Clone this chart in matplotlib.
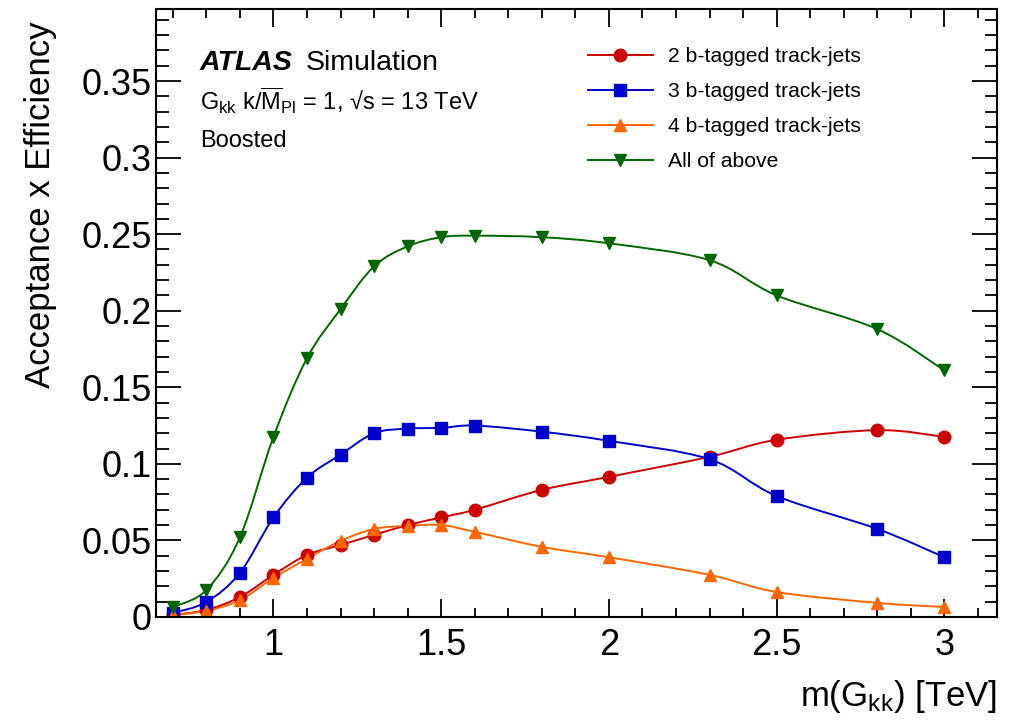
import numpy as np
import matplotlib
matplotlib.use("Agg")
from matplotlib import pyplot as plt
from matplotlib.path import Path
from matplotlib.patches import PathPatch
from matplotlib.lines import Line2D
from matplotlib.ticker import MultipleLocator

plt.rcParams['font.family'] = ['Liberation Sans', 'DejaVu Sans']
plt.rcParams['mathtext.fontset'] = 'custom'
plt.rcParams['mathtext.rm'] = 'Liberation Sans'
plt.rcParams['mathtext.it'] = 'Liberation Sans:italic'

#+++++ data
mass = [0.7, 0.8, 0.9, 1.0, 1.1, 1.2, 1.3, 1.4, 1.5, 1.6, 1.8, 2.0, 2.3, 2.5, 2.8, 3.0]
eff_2b = [0.0013, 0.0046, 0.013, 0.0275, 0.0405, 0.047, 0.0536, 0.060, 0.065, 0.070,
          0.083, 0.0915, 0.1046, 0.1157, 0.122, 0.1176]
eff_3b = [0.0026, 0.0098, 0.0288, 0.065, 0.091, 0.106, 0.120, 0.123, 0.1235, 0.125,
          0.121, 0.115, 0.103, 0.079, 0.0575, 0.039]
eff_4b = [0.0013, 0.004, 0.011, 0.0255, 0.038, 0.0497, 0.0575, 0.0595, 0.060, 0.0556,
          0.0458, 0.039, 0.0275, 0.0163, 0.0092, 0.0065]
eff_all = [0.0065, 0.0176, 0.052, 0.1176, 0.169, 0.201, 0.229, 0.242, 0.248, 0.249,
           0.248, 0.244, 0.233, 0.210, 0.188, 0.161]
labels = ["2 b-tagged track-jets", "3 b-tagged track-jets",
          "4 b-tagged track-jets", "All of above"]
#-----


def smooth_path(x, y):
    # Catmull-Rom style bezier through the points (like ROOT "C" option)
    p = np.column_stack([x, y])
    n = len(p)
    verts = [p[0]]
    codes = [Path.MOVETO]
    for i in range(n - 1):
        p0 = p[i - 1] if i > 0 else p[i]
        p3 = p[i + 2] if i + 2 < n else p[i + 1]
        c1 = p[i] + (p[i + 1] - p0) / 6
        c2 = p[i + 1] - (p3 - p[i]) / 6
        verts += [c1, c2, p[i + 1]]
        codes += [Path.CURVE4] * 3
    return Path(verts, codes)


fig = plt.figure(figsize=(10.12, 7.28), dpi=100)
ax = fig.add_axes([0.1542, 0.1525, 0.8310, 0.8351])

series = [(eff_2b, "#cc0000", "o", 9),
          (eff_3b, "#0000cc", "s", 8.5),
          (eff_4b, "#ff6600", "^", 9),
          (eff_all, "#006600", "v", 9)]
handles = []
for (vals, col, mk, ms), lab in zip(series, labels):
    ax.add_patch(PathPatch(smooth_path(mass, vals), fill=False, edgecolor=col, lw=1.4))
    ax.plot(mass, vals, ls="none", marker=mk, color=col, ms=ms, mec=col)
    handles.append(Line2D([], [], color=col, lw=1.4, marker=mk, ms=ms, label=lab))

ax.set_xlim(0.65, 3.157)
ax.set_ylim(0, 0.397)
ax.xaxis.set_major_locator(MultipleLocator(0.5))
ax.xaxis.set_minor_locator(MultipleLocator(0.1))
ax.yaxis.set_major_locator(MultipleLocator(0.05))
ax.yaxis.set_minor_locator(MultipleLocator(0.01))
ax.xaxis.set_major_formatter(plt.FuncFormatter(lambda v, p: f"{v:g}"))
ax.yaxis.set_major_formatter(plt.FuncFormatter(lambda v, p: f"{v:g}"))
ax.tick_params(which="both", direction="in", top=True, right=True, labelsize=26, width=1.3)
ax.tick_params(axis="x", which="major", length=13, pad=8)
ax.tick_params(axis="x", which="minor", length=6.5)
ax.tick_params(axis="y", which="major", length=18, pad=3)
ax.tick_params(axis="y", which="minor", length=9)
for s in ax.spines.values():
    s.set_linewidth(1.5)

ax.set_ylabel("Acceptance x Efficiency", fontsize=25, loc="top")
ax.yaxis.set_label_coords(-0.118, 0.979)
ax.set_xlabel(r"m(G$_{\mathrm{kk}}$) [TeV]", fontsize=25, loc="right")
ax.xaxis.set_label_coords(1.0, -0.1)

ax.text(0.0523, 0.912, "ATLAS", transform=ax.transAxes, fontsize=20.5,
        fontweight="bold", fontstyle="italic", va="center")
ax.text(0.178, 0.912, "Simulation", transform=ax.transAxes, fontsize=20.5, va="center")
ax.text(0.0523, 0.850, r"G$_{\mathrm{kk}}$ k/$\overline{\mathrm{M}}_{\mathrm{Pl}}$ = 1, √s = 13 TeV",
        transform=ax.transAxes, fontsize=17, va="center")
ax.text(0.0523, 0.783, "Boosted", transform=ax.transAxes, fontsize=17, va="center")

ax.legend(handles=handles, loc="upper left", bbox_to_anchor=(0.503, 0.951),
          frameon=False, fontsize=15.2, handlelength=3.08, labelspacing=0.76,
          handletextpad=0.71, borderaxespad=0)

fig.savefig("out.png", dpi=100)
